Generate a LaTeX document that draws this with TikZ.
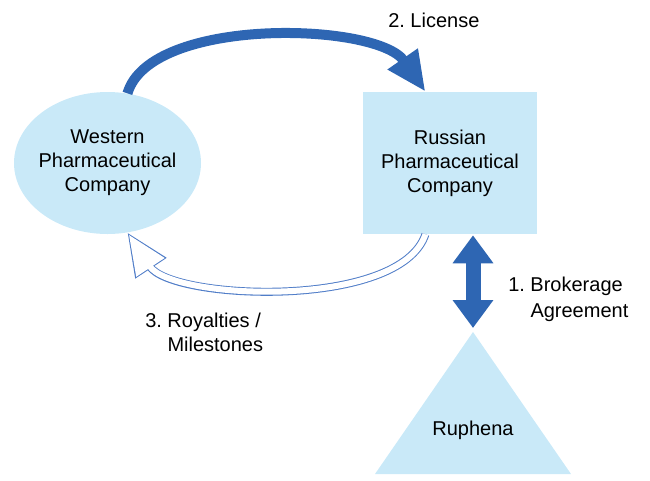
\documentclass[tikz,border=0pt]{standalone}
\usepackage{fontspec}
\setmainfont{Liberation Sans}
\usetikzlibrary{arrows.meta,positioning,shapes.geometric,calc}
\definecolor{lblue}{RGB}{201, 233, 248}
\definecolor{dblue}{RGB}{46, 102, 179}
\definecolor{oblue}{RGB}{80, 125, 200}
\tikzstyle{block} = [rectangle, fill=lblue, minimum width=130.5pt,
  minimum height=106.5pt, inner sep=0pt, align=center]
\tikzstyle{blob} = [ellipse, fill=lblue, minimum width=140.25pt,
  minimum height=106.5pt, inner sep=0pt]
\tikzstyle{txt} = [font=\fontsize{15}{18}\selectfont\frenchspacing, align=center, inner sep=0pt]
\tikzstyle{line} = [draw, line width=7.5pt, color=dblue, -{Triangle[length=30pt,width=25.5pt]}]
\tikzset{
  hollow arrow/.style args={#1 colored by #2 and #3}{
    -{Triangle[length=32pt,width=26.5pt]},line width=#1,#2, % outline
    postaction={draw,#3,line width=(#1)-1.5pt,
                -{Triangle[length=29.3pt,width=24.3pt]},shorten >=1.95pt}, % inside
  }
}

\begin{document}
\frenchspacing
\begin{tikzpicture}[x=0.75pt, y=-0.75pt]

  \useasboundingbox (0,0) rectangle (650,480);

  %%%%%%%%%%%%%%%%%%%%%%%%%%%%%%%%%%%%%%%%%%%%%%%%%%%%%%%%%%%%%%
  %                    COMPANIES                               %
  %%%%%%%%%%%%%%%%%%%%%%%%%%%%%%%%%%%%%%%%%%%%%%%%%%%%%%%%%%%%%%

  \node [blob, label={[txt]center:Western\\Pharmaceutical\\Company}] (western) at (107.5,163) {};
  \node [block, txt] (russian) at (450,163) {Russian\\Pharmaceutical\\Company};

  %%%%%%%%%%%%%%%%%%%%%%%%%%%%%%%%%%%%%%%%%%%%%%%%%%%%%%%%%%%%%%
  %                    BROKER                                  %
  %%%%%%%%%%%%%%%%%%%%%%%%%%%%%%%%%%%%%%%%%%%%%%%%%%%%%%%%%%%%%%

  \coordinate (apex) at (473,332);
  \fill [lblue] (apex) -- (375,474) -- (571,474) -- cycle;
  \node [txt, anchor=base] (ruphena) at (473,435) {Ruphena};

  %%%%%%%%%%%%%%%%%%%%%%%%%%%%%%%%%%%%%%%%%%%%%%%%%%%%%%%%%%%%%%
  %                    FLOWS                                   %
  %%%%%%%%%%%%%%%%%%%%%%%%%%%%%%%%%%%%%%%%%%%%%%%%%%%%%%%%%%%%%%

  \draw [line] (western.74) .. controls (150,16) and (377,22) .. (russian.109);
  \draw [hollow arrow=6pt colored by oblue and white] (russian.251) .. controls (400,310) and (172,300) .. (western.286);
  \draw [dblue, line width=11.25pt, {Triangle[length=21pt,width=29.25pt]}-{Triangle[length=21pt,width=29.25pt]},
    shorten <=0.75pt, shorten >=3pt] (apex |- russian.south) -- (apex);

  \node [txt, anchor=base west] (license) at (388,27) {2. License};
  \node [txt, anchor=west, align=left, font=\fontsize{15}{19.5}\selectfont\frenchspacing] (brokerage) at (508,299) {1. Brokerage\\\phantom{1. }Agreement};
  \node [txt, anchor=west, align=left] (royalties) at (145,332) {3. Royalties /\\\phantom{3. }Milestones};

\end{tikzpicture}
\end{document}
